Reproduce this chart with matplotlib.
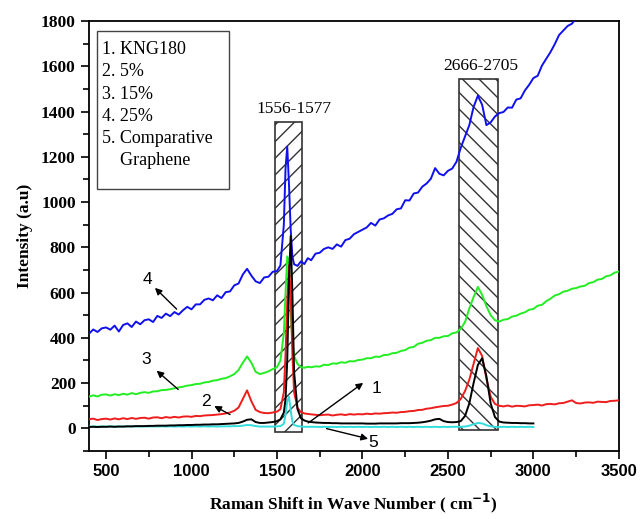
import numpy as np
import matplotlib
matplotlib.use("Agg")
import matplotlib.pyplot as plt
from matplotlib.patches import Rectangle
from matplotlib.ticker import MultipleLocator

nan = np.nan

# ---------------- data ----------------
shift = [
    400, 425, 450, 475, 500, 525, 550, 575, 600, 625,
    650, 675, 700, 725, 750, 775, 800, 825, 850, 875,
    900, 925, 950, 975, 1000, 1025, 1050, 1075, 1100, 1125,
    1150, 1175, 1200, 1225, 1250, 1275, 1300, 1325, 1350, 1375,
    1400, 1425, 1450, 1475, 1500,
    1520, 1540, 1550, 1560, 1570, 1580, 1590, 1600, 1620, 1640, 1660, 1680,
    1700, 1725, 1750, 1775, 1800, 1825, 1850, 1875, 1900, 1925,
    1950, 1975, 2000, 2025, 2050, 2075, 2100, 2125, 2150, 2175,
    2200, 2225, 2250, 2275, 2300, 2325, 2350, 2375, 2400, 2425,
    2450, 2475, 2500, 2525, 2550, 2575, 2600, 2625, 2650, 2675,
    2700, 2725, 2750, 2775, 2800, 2825, 2850, 2875, 2900, 2925,
    2950, 2975, 3000, 3025, 3050, 3075, 3100, 3125, 3150, 3175,
    3200, 3225, 3250, 3275, 3300, 3325, 3350, 3375, 3400, 3425,
    3450, 3475, 3500,
]

kng180 = [  # 1. KNG180 (black)
    6, 7, 6, 7, 7, 8, 7, 8, 8, 9,
    9, 10, 10, 10, 11, 11, 12, 12, 12, 13,
    13, 14, 14, 15, 15, 16, 16, 17, 17, 18,
    18, 19, 20, 21, 22, 24, 30, 38, 40, 28,
    24, 24, 26, 28, 32,
    40, 70, 130, 300, 650, 850, 600, 250, 85, 45, 35, 30,
    28, 26, 25, 24, 24, 23, 23, 22, 22, 22,
    22, 22, 22, 21, 21, 21, 22, 22, 22, 22,
    22, 23, 23, 23, 24, 25, 27, 30, 34, 40,
    42, 32, 28, 27, 28, 32, 55, 110, 200, 280,
    310, 230, 110, 50, 30, 26, 25, 24, 24, 23,
    23, 22, 22, nan, nan, nan, nan, nan, nan, nan,
    nan, nan, nan, nan, nan, nan, nan, nan, nan, nan,
    nan, nan, nan,
]

pct5 = [  # 2. 5% (red)
    40, 43, 37, 41, 43, 39, 44, 40, 45, 41,
    46, 42, 46, 47, 43, 48, 49, 45, 50, 47,
    51, 48, 52, 53, 51, 55, 54, 57, 58, 59,
    61, 63, 66, 70, 78, 92, 130, 168, 120, 82,
    72, 68, 67, 70, 74,
    85, 160, 330, 560, 720, 600, 330, 160, 90, 72, 66, 64,
    62, 60, 58, 60, 61, 57, 60, 62, 59, 63,
    61, 63, 62, 65, 63, 66, 65, 67, 68, 70,
    69, 72, 73, 76, 77, 81, 82, 87, 89, 93,
    96, 99, 100, 105, 112, 130, 165, 215, 285, 355,
    320, 220, 140, 108, 100, 97, 101, 96, 100, 99,
    97, 102, 103, 105, 101, 107, 108, 106, 111, 112,
    118, 124, 112, 110, 114, 115, 113, 118, 117, 116,
    121, 122, 124,
]

pct15 = [  # 3. 15% (green)
    140, 146, 141, 149, 150, 145, 151, 147, 153, 149,
    156, 151, 157, 160, 157, 163, 164, 169, 170, 173,
    177, 181, 184, 189, 191, 196, 197, 203, 205, 211,
    213, 219, 222, 230, 240, 258, 290, 318, 290, 250,
    240, 245, 252, 262, 270,
    300, 420, 600, 760, 740, 520, 380, 320, 285, 270, 268, 272,
    270, 274, 273, 281, 280, 287, 286, 292, 290, 297,
    296, 302, 304, 310, 310, 317, 316, 324, 325, 332,
    334, 342, 346, 357, 360, 374, 378, 387, 390, 400,
    400, 407, 408, 420, 424, 440, 470, 530, 580, 625,
    590, 540, 500, 478, 472, 480, 483, 494, 498, 507,
    513, 524, 528, 542, 546, 562, 573, 587, 593, 604,
    608, 617, 620, 627, 630, 642, 646, 657, 660, 672,
    676, 688, 693,
]

pct25 = [  # 4. 25% (blue)
    418, 437, 426, 442, 446, 436, 454, 428, 457, 464,
    448, 472, 460, 478, 482, 470, 497, 488, 507, 496,
    514, 503, 522, 537, 526, 548, 548, 568, 574, 566,
    588, 576, 602, 605, 632, 640, 680, 705, 675, 650,
    642, 667, 670, 692, 695,
    720, 900, 1150, 1245, 1080, 880, 760, 725, 718, 738, 726, 752,
    743, 772, 776, 793, 800, 793, 813, 803, 832, 838,
    858, 868, 878, 888, 908, 896, 923, 928, 941, 948,
    968, 972, 1008, 1007, 1038, 1042, 1068, 1082, 1103, 1150,
    1125, 1118, 1138, 1148, 1178, 1240, 1290, 1340, 1420, 1470,
    1430, 1340, 1352, 1378, 1393, 1398, 1418, 1417, 1453, 1458,
    1493, 1518, 1548, 1558, 1603, 1633, 1663, 1698, 1738, 1758,
    1778, 1788, 1812, 1830, nan, nan, nan, nan, nan, nan,
    nan, nan, nan,
]

graphene = [  # 5. Comparative Graphene (cyan)
    8, 9, 8, 9, 8, 9, 8, 9, 8, 9,
    8, 9, 8, 9, 8, 9, 8, 9, 8, 9,
    8, 9, 8, 9, 8, 9, 8, 9, 8, 9,
    8, 9, 9, 9, 10, 10, 12, 15, 14, 10,
    8, 8, 8, 8, 9,
    10, 20, 60, 120, 140, 80, 30, 15, 10, 8, 7, 7,
    7, 7, 6, 7, 6, 7, 6, 7, 6, 7,
    6, 7, 6, 7, 6, 7, 6, 7, 6, 7,
    6, 7, 6, 7, 6, 7, 6, 7, 6, 7,
    6, 7, 6, 7, 7, 7, 8, 12, 18, 24,
    22, 14, 9, 7, 6, 7, 6, 7, 6, 7,
    6, 7, 6, nan, nan, nan, nan, nan, nan, nan,
    nan, nan, nan, nan, nan, nan, nan, nan, nan, nan,
    nan, nan, nan,
]

legend_lines = ["1. KNG180", "2. 5%", "3. 15%", "4. 25%", "5. Comparative", "    Graphene"]
band_labels = ["1556-1577", "2666-2705"]

# ---------------- figure ----------------
fig = plt.figure(figsize=(6.4, 5.19), dpi=100)
ax = fig.add_axes([0.139, 0.131, 0.828, 0.8285])

# hatched band boxes
ax.add_patch(Rectangle((1490, -18), 155, 1373, facecolor="none", edgecolor="#333333",
                       hatch="//", linewidth=1.2, zorder=1))
ax.add_patch(Rectangle((2565, -5), 225, 1550, facecolor="none", edgecolor="#333333",
                       hatch="\\\\", linewidth=1.2, zorder=1))

x = np.array(shift, dtype=float)
ax.plot(x, pct15, color="#22ee22", lw=1.4, zorder=3)
ax.plot(x, pct25, color="#1010ee", lw=1.4, zorder=4)
ax.plot(x, pct5, color="#ee1c1c", lw=1.4, zorder=3)
ax.plot(x, graphene, color="#33dddd", lw=1.4, zorder=3)
ax.plot(x, kng180, color="black", lw=1.4, zorder=5)

ax.set_xlim(400, 3500)
ax.set_ylim(-100, 1800)
ax.xaxis.set_major_locator(MultipleLocator(500))
ax.xaxis.set_minor_locator(MultipleLocator(250))
ax.yaxis.set_major_locator(MultipleLocator(200))
ax.yaxis.set_minor_locator(MultipleLocator(100))
ax.set_xticks([500, 1000, 1500, 2000, 2500, 3000, 3500])
ax.tick_params(which="both", direction="out", top=False, right=False, width=1.2)
ax.tick_params(which="major", length=6)
ax.tick_params(which="minor", length=4)
for lab in ax.get_xticklabels():
    lab.set_fontfamily("Liberation Sans")
    lab.set_fontweight("bold")
    lab.set_fontsize(12)
for lab in ax.get_yticklabels():
    lab.set_fontfamily("Liberation Serif")
    lab.set_fontweight("bold")
    lab.set_fontsize(12.5)
for s in ax.spines.values():
    s.set_linewidth(1.3)

ax.set_ylabel("Intensity (a.u)", fontfamily="Liberation Serif", fontweight="bold",
              fontsize=12.5, labelpad=6)
ax.set_xlabel(r"Raman Shift in Wave Number ( cm$^{\mathbf{-1}}$)", fontfamily="Liberation Serif",
              fontweight="bold", fontsize=12.5, labelpad=9)

# legend-like box
ax.add_patch(Rectangle((0.0151, 0.609), 0.249, 0.3676, transform=ax.transAxes,
                       facecolor="white", edgecolor="#444444", lw=1.0, zorder=6))
ys = [49, 71.7, 94.3, 116.7, 138.3, 160]
for t, py in zip(legend_lines, ys):
    ax.text((102 - 89) / 530, (451 - py) / 430, t, transform=ax.transAxes,
            fontfamily="Liberation Serif", fontsize=13, va="center", ha="left", zorder=7)

# band labels
ax.text(1600, 1413, band_labels[0], fontfamily="Liberation Serif", fontsize=12.5,
        ha="center", va="center")
ax.text(2690, 1600, band_labels[1], fontfamily="Liberation Serif", fontsize=12.5,
        ha="center", va="center")

# numbered arrows
arrows = [
    ("4", (745, 658), (786, 621), (913, 527)),
    ("3", (737, 305), (796, 255), (922, 172)),
    ("2", (1084, 117), (1133, 99), (1225, 61)),
    ("1", (2082, 176), (2004, 201), (1683, 24)),
    ("5", (2063, -61), (2033, -46), (1790, -1)),
]
for lab, tpos, head, tail in arrows:
    ax.annotate("", xy=head, xytext=tail,
                arrowprops=dict(arrowstyle="-|>", color="black", lw=1.0,
                                mutation_scale=10, shrinkA=0, shrinkB=0), zorder=8)
    ax.text(tpos[0], tpos[1], lab, fontfamily="Liberation Sans", fontsize=12.5,
            ha="center", va="center", zorder=8)

fig.savefig("out.png", dpi=100)
